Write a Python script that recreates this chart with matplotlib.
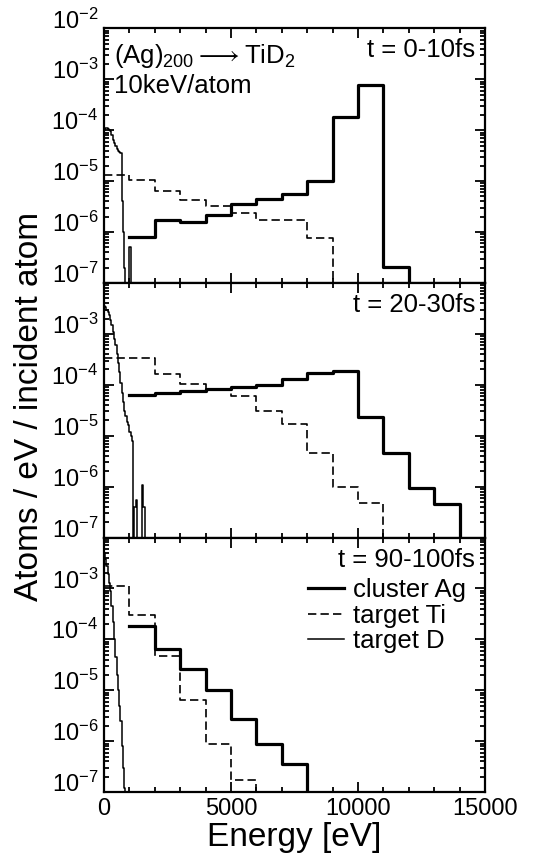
import numpy as np
import matplotlib
matplotlib.use("Agg")
import matplotlib.pyplot as plt
from matplotlib.ticker import MultipleLocator, LogLocator, NullFormatter

plt.rcParams['font.family'] = ['Liberation Sans', 'DejaVu Sans']
plt.rcParams['mathtext.default'] = 'regular'

# bin edges / values (eV, atoms/eV/incident atom)
ag_edges = [
    [1000, 2000, 3000, 4000, 5000, 6000, 7000, 8000, 9000, 10000, 11000, 12000],
    [1000, 2000, 3000, 4000, 5000, 6000, 7000, 8000, 9000, 10000, 11000, 12000, 13000, 14000],
    [1000, 2000, 3000, 4000, 5000, 6000, 7000, 8000],
]
ag_vals = [
    [8e-7, 1.7e-6, 1.55e-6, 2.2e-6, 3.5e-6, 4.5e-6, 5.7e-6, 1.0e-5, 1.8e-4, 7.7e-4, 2.1e-7],
    [6.2e-5, 6.9e-5, 7.4e-5, 8.1e-5, 9.0e-5, 1.0e-4, 1.3e-4, 1.7e-4, 1.85e-4, 2.3e-5, 4.5e-6, 9.3e-7, 4.6e-7],
    [1.8e-4, 6.5e-5, 2.6e-5, 1.0e-5, 2.7e-6, 8.7e-7, 3.5e-7],
]

ti_edges = [
    [0, 1000, 2000, 3000, 4000, 5000, 6000, 7000, 8000, 9000],
    [0, 1000, 2000, 3000, 4000, 5000, 6000, 7000, 8000, 9000, 10000, 11000],
    [0, 1000, 2000, 3000, 4000, 5000, 6000],
]
ti_vals = [
    [1.3e-5, 1.07e-5, 6.5e-6, 4.3e-6, 3.2e-6, 2.4e-6, 1.75e-6, 1.75e-6, 7.6e-7],
    [3.4e-4, 3.4e-4, 1.6e-4, 1.05e-4, 8.3e-5, 5.9e-5, 3.1e-5, 1.7e-5, 4.6e-6, 1.0e-6, 4.8e-7],
    [1.1e-3, 3.0e-4, 4.8e-5, 6.4e-6, 8.7e-7, 1.7e-7],
]

# target D in 50 eV bins starting at 0 (0 = empty bin)
d_bin = 50
d_vals = [
    [1.0e-4, 1.1e-4, 1.1e-4, 1.05e-4, 1.0e-4, 9.5e-5, 8.0e-5, 6.5e-5, 5.5e-5, 4.8e-5,
     4.3e-5, 4.0e-5, 3.8e-5, 3.6e-5, 4e-6, 1e-6, 2e-7, 0, 0, 0, 5e-7, 0],
    [3.5e-3, 3.3e-3, 3.0e-3, 2.7e-3, 2.3e-3, 1.9e-3, 1.5e-3, 1.1e-3, 8e-4, 6e-4,
     4e-4, 2.7e-4, 1.8e-4, 1.1e-4, 7e-5, 4.5e-5, 3e-5, 2.4e-5, 1.9e-5, 1.6e-5,
     1.2e-5, 1.0e-5, 8e-6, 0, 4e-7, 5.4e-7, 0, 0, 0, 0, 1.1e-6, 4e-7, 0],
    [5e-3, 3.8e-3, 2.8e-3, 1.9e-3, 1.3e-3, 9e-4, 4.5e-4, 2.2e-4, 1.0e-4, 4.5e-5,
     2.0e-5, 1.0e-5, 5e-6, 2.5e-6, 8e-7, 3e-7, 1.2e-7, 0],
]

time_labels = ["t = 0-10fs", "t = 20-30fs", "t = 90-100fs"]
ytick_vals = [1e-7, 1e-6, 1e-5, 1e-4, 1e-3, 1e-2]
ytick_labels = ["10$^{-7}$", "10$^{-6}$", "10$^{-5}$", "10$^{-4}$", "10$^{-3}$", "10$^{-2}$"]
xtick_vals = [0, 5000, 10000, 15000]

FLOOR = 1e-12


def step_xy(edges, vals):
    # histogram outline, dropping to the floor after the last bin
    y = np.array(list(vals) + [0.0], dtype=float)
    y = np.where(y > 0, y, FLOOR)
    return np.array(edges, dtype=float), y


fig = plt.figure(figsize=(5.41, 8.61), dpi=100)
axes = fig.subplots(3, 1, sharex=True)
fig.subplots_adjust(left=0.192, right=0.8965, top=0.967, bottom=0.080, hspace=0)

for i, ax in enumerate(axes):
    x, y = step_xy(ag_edges[i], ag_vals[i])
    ax.plot(x, y, drawstyle="steps-post", color="black", lw=2.3, label="cluster Ag")
    x, y = step_xy(ti_edges[i], ti_vals[i])
    ax.plot(x, y, drawstyle="steps-post", color="black", lw=1.2, dashes=(5, 2.5), label="target Ti")
    d_edges = np.arange(len(d_vals[i]) + 1) * d_bin
    x, y = step_xy(d_edges, d_vals[i])
    ax.plot(x, y, drawstyle="steps-post", color="black", lw=1.1, label="target D")

    ax.set_yscale("log")
    ax.set_ylim(1e-7, 1e-2)
    ax.set_xlim(0, 15000)
    ax.set_yticks(ytick_vals)
    labs = list(ytick_labels)
    if i > 0:
        labs[-1] = ""
    ax.set_yticklabels(labs)
    for t in ax.get_yticklabels():
        t.set_va("baseline")
    ax.yaxis.set_minor_locator(LogLocator(base=10, subs=np.arange(2, 10), numticks=100))
    ax.yaxis.set_minor_formatter(NullFormatter())
    ax.xaxis.set_major_locator(MultipleLocator(5000))
    ax.xaxis.set_minor_locator(MultipleLocator(1000))
    ax.tick_params(which="both", direction="in", top=True, right=True, width=1.3, labelsize=17)
    ax.tick_params(which="major", length=7, pad=4)
    ax.tick_params(which="minor", length=3.5)
    for s in ax.spines.values():
        s.set_linewidth(1.6)

    ax.text(0.974, 0.886, time_labels[i], transform=ax.transAxes,
            ha="right", va="baseline", fontsize=18.5)

axes[2].set_xticks(xtick_vals)
axes[2].set_xticklabels([str(v) for v in xtick_vals])
axes[2].set_xlabel("Energy [eV]", fontsize=24, labelpad=2)

axes[0].text(0.026, 0.863, r"(Ag)$_{200}\longrightarrow$TiD$_2$", transform=axes[0].transAxes,
             ha="left", va="baseline", fontsize=18.5)
axes[0].text(0.026, 0.745, "10keV/atom", transform=axes[0].transAxes,
             ha="left", va="baseline", fontsize=18.5)

axes[2].legend(loc="upper left", bbox_to_anchor=(0.535, 0.84), frameon=False,
               fontsize=18.5, handlelength=1.4, handletextpad=0.35,
               labelspacing=0.05, borderpad=0, borderaxespad=0)

fig.text(0.055, 0.528, "Atoms / eV / incident atom", rotation=90,
         ha="center", va="center", fontsize=24)

fig.savefig("out.png", dpi=100)
